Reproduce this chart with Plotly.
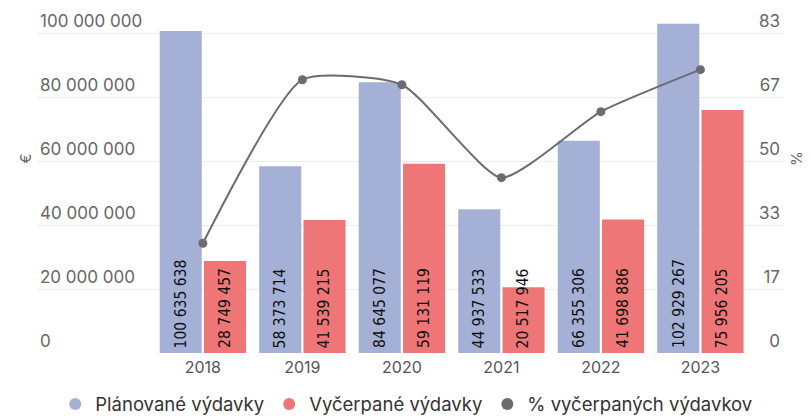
import plotly.graph_objects as go

years = ["2018", "2019", "2020", "2021", "2022", "2023"]
planned = [100635638, 58373714, 84645077, 44937533, 66355306, 102929267]
spent = [28749457, 41539215, 59131119, 20517946, 41698886, 75956205]
pct = [28.57, 71.16, 69.86, 45.66, 62.84, 73.79]

left_ticks = [0, 20000000, 40000000, 60000000, 80000000, 100000000]
left_ticktext = ["0", "20 000 000", "40 000 000", "60 000 000", "80 000 000", "100 000 000"]
right_ticks = [0, 16.667, 33.333, 50, 66.667, 83.333]
right_ticktext = ["0", "17", "33", "50", "67", "83"]

names = ["Plánované výdavky", "Vyčerpané výdavky", "% vyčerpaných výdavkov"]
BLUE = "#a4b0d6"
RED = "#ee7676"
GRAY = "#6b6b70"

def fmt(v):
    return f"{v:,}".replace(",", " ")

fig = go.Figure()
fig.add_trace(go.Bar(x=years, y=planned, name=names[0], marker=dict(color=BLUE, line=dict(width=0)),
                     showlegend=False, hoverinfo="skip"))
fig.add_trace(go.Bar(x=years, y=spent, name=names[1], marker=dict(color=RED, line=dict(width=0)),
                     showlegend=False, hoverinfo="skip"))
fig.add_trace(go.Scatter(x=years, y=pct, yaxis="y2", mode="lines+markers", name=names[2],
                         line=dict(color=GRAY, width=2, shape="spline", smoothing=0.55),
                         marker=dict(color=GRAY, size=9), showlegend=False))

for nm, col in zip(names, [BLUE, RED, GRAY]):
    fig.add_trace(go.Scatter(x=[None], y=[None], mode="markers", name=nm,
                             marker=dict(color=col, size=16, symbol="circle")))

label_font = dict(family="DejaVu Sans Condensed", size=15.5, color="#111111")
for i, (p, s) in enumerate(zip(planned, spent)):
    fig.add_annotation(x=i, y=0, xref="x", yref="y", text=fmt(p), textangle=-90, showarrow=False,
                       xanchor="center", yanchor="bottom", xshift=-22, yshift=3, font=label_font)
    fig.add_annotation(x=i, y=0, xref="x", yref="y", text=fmt(s), textangle=-90, showarrow=False,
                       xanchor="center", yanchor="bottom", xshift=22, yshift=3, font=label_font)

fig.add_annotation(text="€", xref="paper", yref="paper", x=-0.015, y=0.563, showarrow=False,
                   xanchor="center", yanchor="middle",
                   textangle=-90, font=dict(family="Inter", size=15, color="#666666"))
fig.add_annotation(text="%", xref="paper", yref="paper", x=1.018, y=0.563, showarrow=False,
                   xanchor="center", yanchor="middle",
                   textangle=90, font=dict(family="Inter", size=15, color="#666666"))

fig.update_layout(
    width=803, height=408,
    margin=dict(l=29, r=28, t=0, b=63, autoexpand=False),
    paper_bgcolor="white", plot_bgcolor="white",
    barmode="group", bargap=0.11, bargroupgap=0.05,
    font=dict(family="Inter", color="#333333"),
    xaxis=dict(type="category", range=[-1.667, 5.83], showgrid=False, zeroline=False,
               showline=False, ticks="", ticklabelstandoff=3,
               tickfont=dict(family="Inter", size=16, color="#555555")),
    yaxis=dict(range=[0, 107812500], tickvals=left_ticks, ticktext=left_ticktext,
               ticklabelposition="inside top", showgrid=True, gridcolor="#ececec", gridwidth=1,
               zeroline=False, tickfont=dict(family="Inter", size=17, color="#666666"), showline=False),
    yaxis2=dict(range=[0, 89.84], tickvals=right_ticks, ticktext=right_ticktext, overlaying="y",
                side="right", ticklabelposition="inside top", showgrid=False, zeroline=False,
                tickfont=dict(family="Inter", size=17, color="#666666"), showline=False),
    legend=dict(orientation="h", x=0.495, xanchor="center", y=-0.149, yanchor="middle",
                font=dict(family="Inter", size=18.5, color="#333333"), itemsizing="constant"),
)

fig.write_html("out.html")
